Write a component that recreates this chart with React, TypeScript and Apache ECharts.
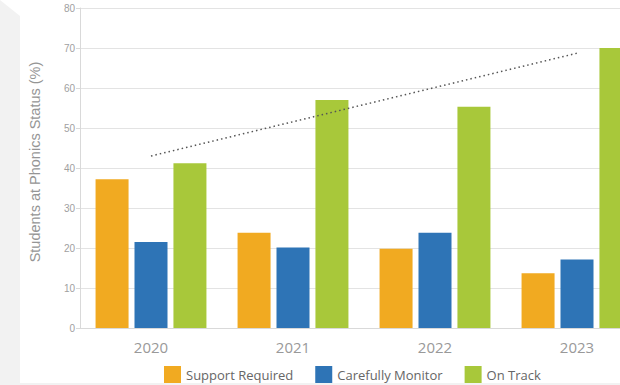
import React, { useEffect, useRef } from "react";
import * as echarts from "echarts";

const years = ["2020", "2021", "2022", "2023"];
const supportRequired = [37.2, 23.8, 19.8, 13.7];
const carefullyMonitor = [21.5, 20.1, 23.8, 17.1];
const onTrack = [41.2, 57.0, 55.3, 70.0];
// Dotted trendline for "On Track", from the first year to the last
const onTrackTrend = [43.0, null, null, 68.7];

const COLORS = {
  support: "#F1AA21",
  monitor: "#2E74B6",
  onTrack: "#A8C83A",
};

export default function App() {
  const ref = useRef<HTMLDivElement>(null);

  useEffect(() => {
    if (!ref.current) return;
    const chart = echarts.init(ref.current, null, { renderer: "svg" });
    const font = "'Open Sans', 'Noto Sans', sans-serif";
    chart.setOption({
      animation: false,
      backgroundColor: "#ffffff",
      textStyle: { fontFamily: font },
      graphic: [
        {
          type: "polygon",
          silent: true,
          z: -10,
          shape: {
            points: [
              [0, 0],
              [20, 16],
              [20, 383],
              [680, 383],
              [680, 385],
              [0, 385],
            ],
          },
          style: { fill: "#f2f2f2" },
        },
        {
          type: "text",
          silent: true,
          x: 35,
          y: 162,
          rotation: Math.PI / 2,
          style: {
            text: "Students at Phonics Status (%)",
            fontFamily: "'Liberation Sans', Arial, sans-serif",
            fontSize: 14.5,
            fill: "#959595",
            textAlign: "center",
            textVerticalAlign: "middle",
          },
        },
      ],
      grid: { left: 80, top: 8, width: 568, height: 320, containLabel: false },
      legend: {
        data: ["Support Required", "Carefully Monitor", "On Track"],
        left: 164,
        top: 366,
        padding: 0,
        icon: "rect",
        itemWidth: 17,
        itemHeight: 17,
        itemGap: 22,
        textStyle: { fontFamily: font, fontSize: 13, color: "#666666" },
      },
      xAxis: {
        type: "category",
        data: years,
        axisLine: { show: true, lineStyle: { color: "#d9d9d9" } },
        axisTick: { show: false },
        axisLabel: { fontFamily: font, fontSize: 15, color: "#999999", margin: 11 },
      },
      yAxis: {
        type: "value",
        min: 0,
        max: 80,
        interval: 10,
        axisLine: { show: true, lineStyle: { color: "#d9d9d9" } },
        axisTick: { show: true, length: 4, lineStyle: { color: "#d9d9d9" } },
        axisLabel: {
          fontFamily: "'Liberation Sans', Arial, sans-serif",
          fontSize: 10,
          color: "#a0a0a0",
          margin: 5,
        },
        splitLine: { show: true, lineStyle: { color: "#e3e3e3", width: 1 } },
      },
      series: [
        {
          name: "Support Required",
          type: "bar",
          data: supportRequired,
          barWidth: 33,
          barGap: "18%",
          itemStyle: { color: COLORS.support },
        },
        {
          name: "Carefully Monitor",
          type: "bar",
          data: carefullyMonitor,
          barWidth: 33,
          barGap: "18%",
          itemStyle: { color: COLORS.monitor },
        },
        {
          name: "On Track",
          type: "bar",
          data: onTrack,
          barWidth: 33,
          barGap: "18%",
          itemStyle: { color: COLORS.onTrack },
        },
        {
          name: "On Track trend",
          type: "line",
          data: onTrackTrend,
          connectNulls: true,
          symbol: "none",
          z: 5,
          lineStyle: { color: "#555555", width: 1.5, type: [1.5, 3] },
        },
      ],
    });
    return () => chart.dispose();
  }, []);

  return (
    <div
      style={{
        position: "absolute",
        left: 0,
        top: 0,
        width: 620,
        height: 385,
        overflow: "hidden",
      }}
    >
      <div ref={ref} style={{ width: 680, height: 385 }} />
    </div>
  );
}
